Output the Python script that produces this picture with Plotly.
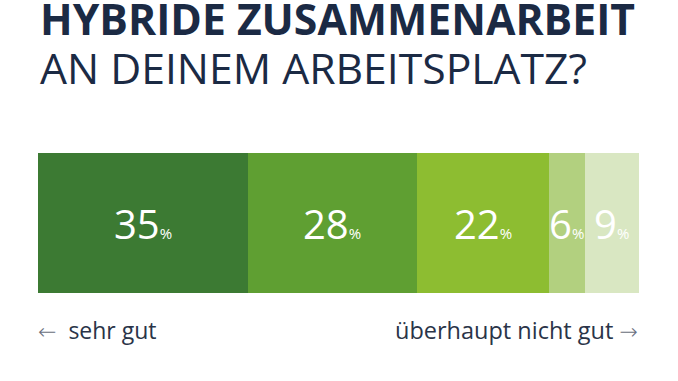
import plotly.graph_objects as go

categories = ["sehr gut", "gut", "mittel", "weniger gut", "überhaupt nicht gut"]
values = [35, 28, 22, 6, 9]
colors = ["#3c7a33", "#5f9f32", "#8dbd31", "#b2d07f", "#d9e7c2"]

fig = go.Figure()
for c, v, col in zip(categories, values, colors):
    fig.add_trace(go.Bar(x=[v], y=["a"], orientation="h", name=c,
                         marker=dict(color=col, line=dict(width=0)),
                         hoverinfo="skip"))

annotations = []
cum = 0
for v in values:
    mid = cum + v / 2
    cum += v
    annotations.append(dict(
        x=mid, y=0, xref="x", yref="y", showarrow=False,
        text=f"{v}<span style='font-size:15px'>%</span>",
        font=dict(family="Open Sans", size=40, color="white"),
        xanchor="center", yanchor="middle"))

def py(p):
    return (293 - p) / 140

arrow_style = "font-family:DejaVu Sans;font-weight:200;font-size:22px;color:#6a7080"
annotations += [
    dict(x=0, y=py(18), xref="paper", yref="paper", showarrow=False,
         text="<b>HYBRIDE ZUSAMMENARBEIT</b>", xanchor="left", yanchor="middle",
         font=dict(family="Open Sans", size=42.7, color="#1b2a44")),
    dict(x=0, y=py(68), xref="paper", yref="paper", showarrow=False,
         text="AN DEINEM ARBEITSPLATZ?", xanchor="left", yanchor="middle",
         font=dict(family="Open Sans", size=42.7, color="#1b2a44")),
    dict(x=-0.003, y=py(330), xref="paper", yref="paper", showarrow=False,
         text=f"<span style='{arrow_style}'>←</span>&#160; sehr gut", xanchor="left", yanchor="middle",
         font=dict(family="Open Sans", size=23, color="#2a3448")),
    dict(x=1.002, y=py(330), xref="paper", yref="paper", showarrow=False,
         text=f"überhaupt nicht gut <span style='{arrow_style}'>→</span>", xanchor="right", yanchor="middle",
         font=dict(family="Open Sans", size=23.5, color="#2a3448")),
]

fig.update_layout(
    width=678, height=381, barmode="stack", bargap=0,
    margin=dict(l=38, r=39, t=153, b=88),
    paper_bgcolor="white", plot_bgcolor="white", showlegend=False,
    xaxis=dict(range=[0, 100], visible=False, fixedrange=True),
    yaxis=dict(range=[-0.5, 0.5], visible=False, fixedrange=True),
    annotations=annotations,
)
fig.write_html("out.html", config={"displayModeBar": False},
               post_script="document.body.style.margin='0';")
